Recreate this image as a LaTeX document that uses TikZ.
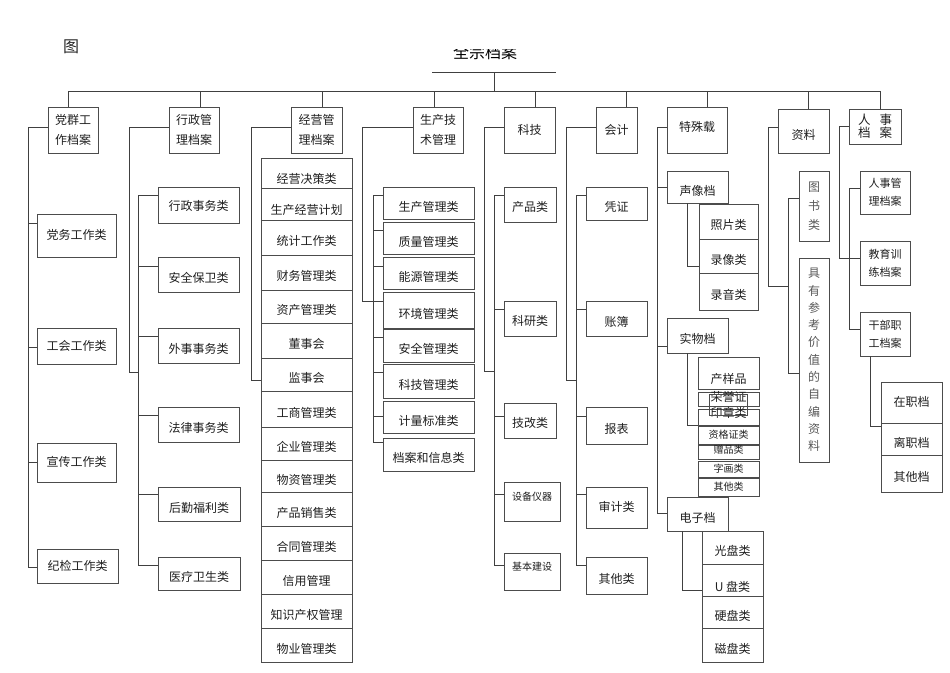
\documentclass[tikz,border=0pt]{standalone}
\usepackage{fontspec}
\setmainfont{Noto Sans CJK SC}
\newcommand\bx[7][tlow]{\node[#1,minimum width={#5-#3},minimum height={#6-#4}] (#2) at ({(#3+#5)/2},{(#4+#6)/2}) {#7};}
\newcommand\branch[3]{\path ([yshift=-#3pt]#2.north west) coordinate (#2b); \draw[ln] (#2b) -- (#2b -| #1);}
\newcommand\drop[2]{\path ([xshift=#2pt]#1.north) coordinate (#1t); \draw[ln] (#1t) -- (#1t |- busL);}
\begin{document}
\begin{tikzpicture}[x=1pt,y=-1pt,
  ln/.style={draw=black!75,line width=1pt},
  box/.style={draw=black!70,line width=1pt,inner sep=0pt,outer sep=0pt,font=\fontsize{12}{14}\selectfont,text=black!88,align=center},
  tlow/.style={box,text height=16.8pt,text depth=0pt},
  tmid/.style={box,text height=8.8pt,text depth=0pt},
  tsm/.style={box,font=\fontsize{10}{12}\selectfont,text height=7.3pt,text depth=0pt},
  two/.style={box,font=\fontsize{12}{20}\selectfont},
  vert/.style={box,text=black!65},
]
\useasboundingbox (0,0) rectangle (950,672);

% title
\begin{scope}
\clip (380,49) rectangle (600,70);
\node[font=\fontsize{16}{16}\selectfont,anchor=base,text=black] (title) at (485,58) {全宗档案};
\end{scope}
\node[font=\fontsize{16}{16}\selectfont,anchor=base,text=black!85] (fig) at (71,52) {图};

\coordinate (tlA) at (432,72);
\coordinate (tlB) at (556,72);
\coordinate (tlM) at (494,72);
\coordinate (busL) at (68,91);
\draw[ln] (tlA) -- (tlB);
\draw[ln] (tlM) -- (tlM |- busL);

% level 1
\bx[two]{dq}{48}{107}{98}{153}{党群工\\作档案}
\bx[two]{xz}{169}{107}{219}{153}{行政管\\理档案}
\bx[two]{jy}{291}{107}{342}{153}{经营管\\理档案}
\bx[two]{sc}{413}{107}{463}{153}{生产技\\术管理}
\bx[tmid]{kj}{504}{107}{555}{153}{科技}
\bx[tmid]{kc}{596}{107}{637}{153}{会计}
\bx[box,text height=2.8pt,text depth=0pt]{ts}{667}{107}{727}{153}{特殊载}
\bx[tlow]{zl}{778}{109}{829}{153}{资料}
\bx[box,font=\fontsize{12.5}{13}\selectfont]{rs}{849}{109}{901}{144}{人\hspace{9pt}事\\档\hspace{9pt}案}

\drop{dq}{-5}
\drop{xz}{6}
\drop{jy}{5.5}
\drop{sc}{-4}
\drop{kj}{5.5}
\drop{kc}{9.5}
\drop{ts}{10}
\drop{zl}{4.5}
\drop{rs}{5}
\draw[ln] (dqt |- busL) -- (rst |- busL);

% 党群
\bx[tmid]{d1}{37}{214}{116}{257}{党务工作类}
\bx[tmid]{d2}{37}{328}{116}{364}{工会工作类}
\bx[tmid]{d3}{37}{443}{116}{482}{宣传工作类}
\bx[tmid]{d4}{37}{549}{118}{583}{纪检工作类}
\coordinate (dqv) at (28,567);
\draw[ln] ([yshift=3pt]dq.west) -| (dqv);
\branch{dqv}{d1}{9}
\branch{dqv}{d2}{19}
\branch{dqv}{d3}{19}
\branch{dqv}{d4}{18}

% 行政
\bx[box,text height=10.8pt,text depth=0pt]{x1}{158}{187}{239}{223}{行政事务类}
\bx{x2}{158}{257}{239}{292}{安全保卫类}
\bx{x3}{158}{328}{239}{363}{外事事务类}
\bx{x4}{158}{407}{239}{442}{法律事务类}
\bx{x5}{158}{487}{240}{521}{后勤福利类}
\bx{x6}{158}{557}{240}{590}{医疗卫生类}
\coordinate (xzv1) at (129,372);
\coordinate (xzv2) at (138,372);
\draw[ln] ([yshift=3pt]xz.west) -| (xzv1) -- (xzv2);
\branch{xzv2}{x1}{8}
\branch{xzv2}{x2}{9}
\branch{xzv2}{x3}{8}
\branch{xzv2}{x4}{8}
\branch{xzv2}{x5}{7}
\branch{xzv2}{x6}{8}
\draw[ln] (x1b -| xzv2) -- (x6b -| xzv2);

% 经营
\bx[box,text height=20.8pt,text depth=0pt]{j1}{261}{158}{352}{188}{经营决策类}
\bx[box,text height=20.8pt,text depth=0pt]{j2}{261}{188}{352}{220}{生产经营计划}
\bx{j3}{261}{220}{352}{255}{统计工作类}
\bx{j4}{261}{255}{352}{290}{财务管理类}
\bx{j5}{261}{290}{352}{323}{资产管理类}
\bx{j6}{261}{323}{352}{358}{董事会}
\bx{j7}{261}{358}{352}{391}{监事会}
\bx{j8}{261}{391}{352}{427}{工商管理类}
\bx{j9}{261}{427}{352}{460}{企业管理类}
\bx{j10}{261}{460}{352}{492}{物资管理类}
\bx{j11}{261}{492}{352}{526}{产品销售类}
\bx{j12}{261}{526}{352}{560}{合同管理类}
\bx{j13}{261}{560}{352}{594}{信用管理}
\bx{j14}{261}{594}{352}{628}{知识产权管理}
\bx{j15}{261}{628}{352}{662}{物业管理类}
\coordinate (jyv) at (251,380);
\draw[ln] ([yshift=3pt]jy.west) -| (jyv) -- (jyv -| j7.west);

% 生产技术
\bx{s1}{383}{187}{474}{219}{生产管理类}
\bx{s2}{383}{222}{474}{254}{质量管理类}
\bx{s3}{383}{257}{474}{289}{能源管理类}
\bx{s4}{383}{292}{474}{328}{环境管理类}
\bx{s5}{383}{329}{474}{362}{安全管理类}
\bx{s6}{383}{364}{474}{398}{科技管理类}
\bx{s7}{383}{401}{474}{433}{计量标准类}
\bx{s8}{383}{438}{474}{471}{档案和信息类}
\coordinate (scv1) at (362,301);
\coordinate (scv2) at (373,301);
\draw[ln] ([yshift=3pt]sc.west) -| (scv1) -- (scv1 -| s4.west);
\branch{scv2}{s1}{8}
\branch{scv2}{s2}{8}
\branch{scv2}{s3}{9}
\branch{scv2}{s5}{8}
\branch{scv2}{s6}{8}
\branch{scv2}{s7}{15}
\branch{scv2}{s8}{4}
\draw[ln] (s1b -| scv2) -- (s8b -| scv2);

% 科技
\bx[box,text height=13.8pt,text depth=0pt]{k1}{504}{187}{556}{222}{产品类}
\bx[box,text height=13.8pt,text depth=0pt]{k2}{504}{301}{556}{336}{科研类}
\bx[box,text height=13.8pt,text depth=0pt]{k3}{504}{403}{556}{438}{技改类}
\bx[box,font=\fontsize{10}{12}\selectfont,text height=0pt,text depth=1.7pt]{k4}{504}{482}{560}{521}{设备仪器}
\bx[box,font=\fontsize{10}{12}\selectfont,text height=0pt,text depth=1.7pt]{k5}{504}{553}{560}{590}{基本建设}
\coordinate (kjv1) at (484,371);
\coordinate (kjv2) at (494,371);
\draw[ln] ([yshift=3pt]kj.west) -| (kjv1) -- (kjv2);
\branch{kjv2}{k1}{8}
\branch{kjv2}{k2}{8}
\branch{kjv2}{k3}{13}
\branch{kjv2}{k4}{12}
\branch{kjv2}{k5}{12}
\draw[ln] (k1b -| kjv2) -- (k5b -| kjv2);

% 会计
\bx{a1}{586}{187}{647}{220}{凭证}
\bx{a2}{586}{301}{647}{336}{账簿}
\bx{a3}{586}{407}{647}{444}{报表}
\bx[tmid]{a4}{586}{487}{647}{528}{审计类}
\bx{a5}{586}{557}{647}{594}{其他类}
\coordinate (kcv1) at (566,380);
\coordinate (kcv2) at (576,380);
\draw[ln] ([yshift=3pt]kc.west) -| (kcv1) -- (kcv2);
\branch{kcv2}{a1}{8}
\branch{kcv2}{a2}{8}
\branch{kcv2}{a3}{9}
\branch{kcv2}{a4}{7}
\branch{kcv2}{a5}{8}
\draw[ln] (a1b -| kcv2) -- (a5b -| kcv2);

% 特殊载
\bx{t1}{667}{171}{728}{203}{声像档}
\bx{t2}{667}{318}{728}{353}{实物档}
\bx{t3}{667}{497}{728}{531}{电子档}
\coordinate (tsv) at (657,513);
\draw[ln] ([yshift=3pt]ts.west) -| (tsv);
\branch{tsv}{t1}{16}
\branch{tsv}{t2}{28}
\branch{tsv}{t3}{16}

\bx{t11}{699}{204}{758}{239}{照片类}
\bx{t12}{699}{239}{758}{273}{录像类}
\bx{t13}{699}{273}{758}{310}{录音类}
\path ([xshift=20pt]t1.south west) coordinate (t1d);
\path ([yshift=-27pt]t12.north west) coordinate (t12b);
\draw[ln] (t1d) |- (t12b);

\bx[box,text height=20.8pt,text depth=0pt]{u1}{698}{357}{759}{389}{产样品}
\bx[box,text height=4.8pt,text depth=0pt]{u2}{698}{392}{759}{406}{荣誉证}
\bx[box,text height=0.8pt,text depth=0pt]{u3}{698}{409}{759}{425}{印章类}
\bx[box]{u2x}{709}{394}{747}{415}{}
\bx[tsm]{u4}{698}{426}{759}{444}{资格证类}
\bx[box,font=\fontsize{10}{12}\selectfont,text height=3.3pt,text depth=0pt]{u5}{698}{445}{759}{459}{赠品类}
\bx[tsm]{u6}{698}{461}{759}{477}{字画类}
\bx[tsm]{u7}{698}{478}{759}{496}{其他类}
\path ([xshift=20pt]t2.south west) coordinate (t2d);
\draw[ln] (t2d) |- (u3.south west);

\bx{e1}{702}{531}{763}{564}{光盘类}
\bx[box,text height=22.8pt,text depth=0pt]{e2}{702}{564}{763}{596}{U 盘类}
\bx{e3}{702}{596}{763}{628}{硬盘类}
\bx{e4}{702}{628}{763}{662}{磁盘类}
\path ([xshift=15pt]t3.south west) coordinate (t3d);
\path ([yshift=6pt]e2.south west) coordinate (e2b);
\draw[ln] (t3d) |- (e2b);

% 资料
\bx[vert,font=\fontsize{12}{19}\selectfont]{z1}{799}{171}{829}{241}{图\\书\\类}
\bx[vert,font=\fontsize{12}{17.3}\selectfont]{z2}{799}{258}{829}{462}{具\\有\\参\\考\\价\\值\\的\\自\\编\\资\\料}
\coordinate (zlv1) at (768,286);
\coordinate (zlv2) at (788,286);
\draw[ln] ([yshift=4pt]zl.west) -| (zlv1) -- (zlv2);
\branch{zlv2}{z1}{27}
\branch{zlv2}{z2}{115}
\draw[ln] (z1b -| zlv2) -- (z2b -| zlv2);

% 人事
\bx[box,font=\fontsize{11}{18}\selectfont]{r1}{860}{171}{910}{214}{人事管\\理档案}
\bx[box,font=\fontsize{11}{18}\selectfont]{r2}{860}{241}{910}{285}{教育训\\练档案}
\bx[box,font=\fontsize{11}{18}\selectfont]{r3}{860}{312}{910}{356}{干部职\\工档案}
\path ([yshift=-17pt]r2.north west) coordinate (r2b);
\coordinate (rsv1) at (839,258);
\coordinate (rsv2) at (849,258);
\draw[ln] (rs.west) -| (rsv1) -- (r2b);
\branch{rsv2}{r1}{17}
\branch{rsv2}{r3}{17}
\draw[ln] (r1b -| rsv2) -- (r3b -| rsv2);

\bx[tmid]{h1}{881}{382}{942}{423}{在职档}
\bx{h2}{881}{423}{942}{455}{离职档}
\bx{h3}{881}{455}{942}{492}{其他档}
\path ([xshift=10pt]r3.south west) coordinate (r3d);
\path ([yshift=-3pt]h2.north west) coordinate (h2b);
\draw[ln] (r3d) |- (h2b);
\end{tikzpicture}
\end{document}
